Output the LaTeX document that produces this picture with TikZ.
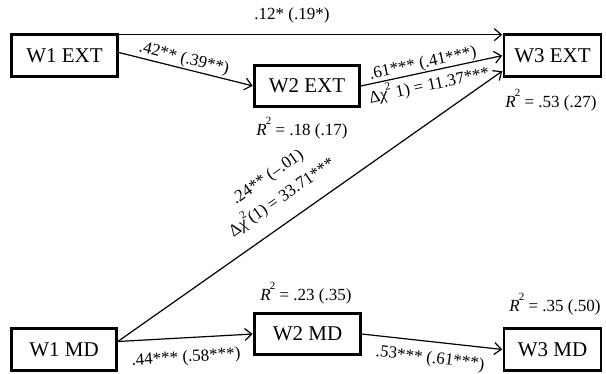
\documentclass[tikz,border=0pt]{standalone}
\usepackage{fontspec}
\setmainfont{Liberation Serif}
\usetikzlibrary{arrows.meta,calc}
\newcommand\Rsq{{\itshape R}\kern-1pt\raisebox{0.62em}{\fontsize{11}{11}\selectfont 2}}
\newcommand\dchi{Δ{\itshape χ}\kern-1pt\raisebox{0.55em}{\fontsize{11}{11}\selectfont 2}}
\begin{document}
\begin{tikzpicture}[x=1pt,y=-1pt,
  box/.style={draw, line width=2.6pt, inner sep=0pt, font=\fontsize{21}{25}\selectfont},
  lab/.style={inner sep=0pt, font=\fontsize{17}{20}\selectfont},
  arr/.style={-{Straight Barb[length=7pt,width=12pt]}, line width=1.2pt, shorten >=0.5pt}]
\useasboundingbox (0,0) rectangle (606,373);
% boxes
\node[box, minimum width=106pt, minimum height=42pt] (W1EXT) at (64.5,55.5) {W1 EXT};
\node[box, minimum width=105pt, minimum height=41pt] (W2EXT) at (307,86) {W2 EXT};
\node[box, minimum width=97pt, minimum height=42pt] (W3EXT) at (552.5,55.5) {W3 EXT};
\node[box, minimum width=105pt, minimum height=42pt] (W1MD) at (64,349.5) {W1 MD};
\node[box, minimum width=106pt, minimum height=41pt] (W2MD) at (307.5,334) {W2 MD};
\node[box, minimum width=97pt, minimum height=42pt] (W3MD) at (552.5,349.5) {W3 MD};
% connectors
\draw[arr] ($(W1EXT.north east)+(0,1.5)$) -- ($(W3EXT.north west)+(0,1.5)$);
\draw[arr] ($(W1EXT.east)+(0,-3)$) -- (W2EXT.west);
\draw[arr] (W2EXT.east) -- (W3EXT.west);
\draw[arr] ($(W1MD.east)+(0,-8)$) -- ($(W3EXT.south west)+(0,-7)$);
\draw[arr] ($(W1MD.east)+(0,-8)$) -- (W2MD.west);
\draw[arr] (W2MD.east) -- (W3MD.west);
% labels
\node[lab] (l12) at (292,15) {.12* (.19*)};
\node[lab, rotate=-14] (l42) at (184,59) {.42** (.39**)};
\node[lab, rotate=12] (l61) at (423,64) {.61*** (.41***)};
\node[lab, rotate=12] (ldx1) at (429,84) {\dchi\ 1) = 11.37***};
\node[lab] (r18) at (302,128) {\Rsq\ = .18 (.17)};
\node[lab] (r53) at (551,100) {\Rsq\ = .53 (.27)};
\node[lab, rotate=35] (l24) at (268,177.5) {.24** (–.01)};
\node[lab, rotate=35] (ldx2) at (281,196) {\dchi(1) = 33.71***};
\node[lab] (r23) at (306,293) {\Rsq\ = .23 (.35)};
\node[lab] (r35) at (555,304) {\Rsq\ = .35 (.50)};
\node[lab, rotate=4] (l44) at (186,358) {.44*** (.58***)};
\node[lab, rotate=-7] (l53) at (430,359) {.53*** (.61***)};
\end{tikzpicture}
\end{document}
